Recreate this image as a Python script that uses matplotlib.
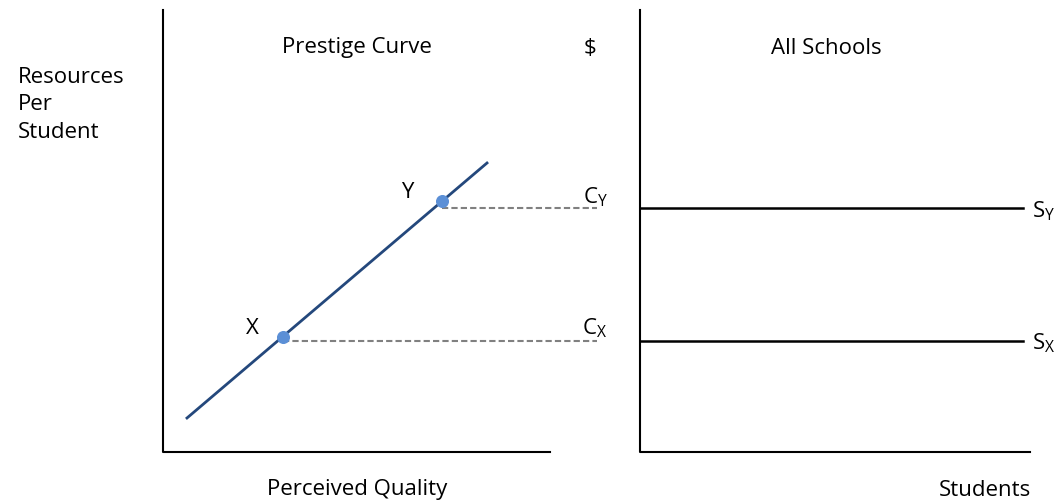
import matplotlib.pyplot as plt

# diagram geometry (pixel-like data units)
left_axis_x = [163, 163, 550]; left_axis_y = [10, 452, 452]
right_axis_x = [640, 640, 1030]; right_axis_y = [10, 452, 452]
curve_x = [187, 487]; curve_y = [418, 163]
points_x = [283, 442]; points_y = [337, 201]
point_labels = ["X", "Y"]
cost_levels = [341, 208]
cost_labels = ["C$_\\mathregular{X}$", "C$_\\mathregular{Y}$"]
supply_labels = ["S$_\\mathregular{X}$", "S$_\\mathregular{Y}$"]

plt.rcParams['font.family'] = ['Open Sans', 'DejaVu Sans']
fig = plt.figure(figsize=(10.58, 5.04), dpi=100)
ax = fig.add_axes([0, 0, 1, 1])
ax.set_xlim(0, 1058); ax.set_ylim(504, 0); ax.axis('off')

ax.plot(left_axis_x, left_axis_y, color='black', lw=1.5)
ax.plot(right_axis_x, right_axis_y, color='black', lw=1.5)
ax.plot(curve_x, curve_y, color='#24487c', lw=2)
for px, py, lab, lvl in zip(points_x, points_y, point_labels, cost_levels):
    ax.plot([px, 597], [lvl, lvl], color='#808080', lw=1.5, ls=(0, (3, 1.5)))
for lvl in cost_levels:
    ax.plot([640, 1023], [lvl, lvl], color='black', lw=1.8)
ax.scatter(points_x, points_y, s=70, color='#5b8fd6', zorder=5)

fs = 16
ax.text(252, 328, "X", fontsize=fs, ha='center', va='center')
ax.text(407, 193, "Y", fontsize=fs, ha='center', va='center')
ax.text(595, 328, cost_labels[0], fontsize=fs, ha='center', va='center')
ax.text(595, 197, cost_labels[1], fontsize=fs, ha='center', va='center')
ax.text(1044, 343, supply_labels[0], fontsize=fs, ha='center', va='center')
ax.text(1044, 211, supply_labels[1], fontsize=fs, ha='center', va='center')
ax.text(18, 105, "Resources\nPer\nStudent", fontsize=fs, ha='left', va='center', linespacing=1.4)
ax.text(357, 48, "Prestige Curve", fontsize=fs, ha='center', va='center')
ax.text(590, 48, "$", fontsize=fs, ha='center', va='center')
ax.text(826, 48, "All Schools", fontsize=fs, ha='center', va='center')
ax.text(357, 490, "Perceived Quality", fontsize=fs, ha='center', va='center')
ax.text(985, 490, "Students", fontsize=fs, ha='center', va='center')

fig.savefig("out.png", dpi=100)
